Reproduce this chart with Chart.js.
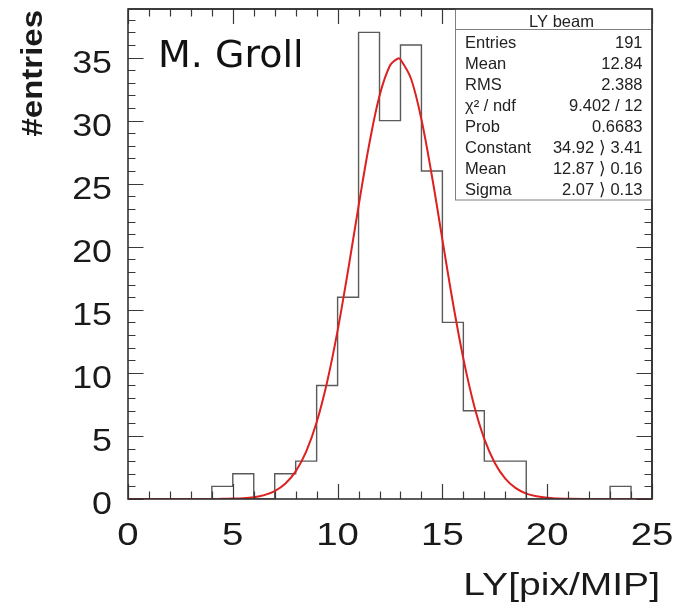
<!DOCTYPE html>
<html><head><meta charset="utf-8">
<script src="https://cdn.jsdelivr.net/npm/chart.js@4/dist/chart.umd.min.js"></script>
<style>html,body{margin:0;padding:0;background:#fff}#wrap{width:684px;height:606px}</style>
</head><body><div id="wrap"><canvas id="c" width="684" height="606"></canvas></div>
<script>
// ---- data ----
const binLowEdges = [0,1,2,3,4,5,6,7,8,9,10,11,12,13,14,15,16,17,18,19,20,21,22,23,24];
const binCounts   = [0,0,0,0,1,2,0,2,3,9,16,37,30,36,26,14,7,3,3,0,0,0,0,1,0];
const binUpperEnd = 25;
const fitX = [0,1,2,3,4,4.5,5,5.5,6,6.5,7,7.5,8,8.5,9,9.5,10,10.5,11,11.5,12,12.5,12.87,13,13.5,14,14.5,15,15.5,16,16.5,17,17.5,18,18.5,19,19.5,20,20.5,21,22,23,24,25];
const fitY = [0,0,0,0,0,0.01,0.03,0.06,0.14,0.31,0.63,1.21,2.19,3.76,6.08,9.28,13.35,18.13,23.22,28.05,31.97,34.37,34.92,34.85,33.34,30.09,25.61,20.57,15.58,11.13,7.50,4.77,2.86,1.62,0.86,0.43,0.21,0.09,0.04,0.01,0,0,0,0];
const xTickLabels = [0,5,10,15,20,25];
const yTickLabels = [0,5,10,15,20,25,30,35];
const xTitle = 'LY[pix/MIP]';
const yTitle = '#entries';
const author = 'M. Groll';
const statsTitle = 'LY beam';
const statsNames  = ['Entries','Mean','RMS','\u03C7\u00B2 / ndf','Prob','Constant','Mean','Sigma'];
const statsValues = ['191','12.84','2.388','9.402 / 12','0.6683','34.92 \u27E9 3.41','12.87 \u27E9 0.16','2.07 \u27E9 0.13'];

// ---- build datasets ----
const histPoints = binLowEdges.map((x,i)=>({x:x,y:binCounts[i]}));
histPoints.push({x:binUpperEnd,y:binCounts[binCounts.length-1]});
const fitPoints = fitX.map((x,i)=>({x:x,y:fitY[i]}));

function txt(ctx,s,x,y,font,align,sx,color){
  ctx.save();ctx.translate(x,y);ctx.scale(sx,1);
  ctx.font=font;ctx.textAlign=align;ctx.textBaseline='alphabetic';
  ctx.fillStyle=color||'#111';ctx.fillText(s,0,0);ctx.restore();
}

const framePlugin = {
  id:'rootFrame',
  afterDatasetsDraw(chart){
    const ctx=chart.ctx, a=chart.chartArea, xs=chart.scales.x, ys=chart.scales.y;
    ctx.save();
    // ticks
    ctx.strokeStyle='#3a3a3a';ctx.lineWidth=1.2;
    ctx.beginPath();
    for(let v=0; v<=25; v++){
      const px=Math.round(xs.getPixelForValue(v))+0.5;
      const len = (v%5===0)?15:7.5;
      ctx.moveTo(px,a.bottom);ctx.lineTo(px,a.bottom-len);
      ctx.moveTo(px,a.top);ctx.lineTo(px,a.top+len);
    }
    for(let v=0; v<=ys.max; v++){
      const py=Math.round(ys.getPixelForValue(v))+0.5;
      const len = (v%5===0)?15.5:7.5;
      ctx.moveTo(a.left,py);ctx.lineTo(a.left+len,py);
      ctx.moveTo(a.right,py);ctx.lineTo(a.right-len,py);
    }
    ctx.stroke();
    // frame
    ctx.lineWidth=1.6;ctx.strokeStyle='#333';
    ctx.strokeRect(a.left,a.top,a.right-a.left,a.bottom-a.top);
    // tick labels
    const tf='32px "Liberation Sans", Arial, sans-serif';
    xTickLabels.forEach(v=>{ txt(ctx,String(v),xs.getPixelForValue(v),a.bottom+46,tf,'center',1.2,'#1a1a1a'); });
    yTickLabels.forEach(v=>{ txt(ctx,String(v),a.left-16,ys.getPixelForValue(v)+15,tf,'right',1.12,'#1a1a1a'); });
    // axis titles
    txt(ctx,xTitle,660,595,'32px "Liberation Sans", Arial, sans-serif','right',1.22,'#1a1a1a');
    ctx.save();ctx.translate(42,10);ctx.rotate(-Math.PI/2);ctx.scale(1.1,1);
    ctx.font='bold 30px "Liberation Sans", Arial, sans-serif';ctx.textAlign='right';ctx.textBaseline='alphabetic';
    ctx.fillStyle='#1a1a1a';ctx.fillText(yTitle,0,0);ctx.restore();
    // author
    txt(ctx,author,158,67,'38px "DejaVu Sans", sans-serif','left',1,'#111');
    // stats box
    const bx=455.5, by=a.top, bw=a.right-455.5, bh=200-a.top;
    ctx.fillStyle='#fff';ctx.fillRect(bx,by,bw,bh);
    ctx.strokeStyle='#808080';ctx.lineWidth=1;
    ctx.strokeRect(bx,by,bw,bh);
    ctx.beginPath();ctx.moveTo(bx,29.5);ctx.lineTo(bx+bw,29.5);ctx.stroke();
    const sf='16.5px "Liberation Sans", Arial, sans-serif';
    txt(ctx,statsTitle,561.5,26.7,sf,'center',1,'#222');
    statsNames.forEach((n,i)=>{
      const base=47.7+21.1*i;
      txt(ctx,n,465,base,sf,'left',1,'#222');
      txt(ctx,statsValues[i],642.5,base,sf,'right',1,'#222');
    });
    // redraw frame edges over box
    ctx.lineWidth=1.6;ctx.strokeStyle='#333';
    ctx.beginPath();ctx.moveTo(a.left,a.top);ctx.lineTo(a.right,a.top);ctx.lineTo(a.right,a.bottom);ctx.stroke();
    ctx.restore();
  }
};

new Chart(document.getElementById('c'),{
  type:'line',
  data:{datasets:[
    {label:'fit',data:fitPoints,borderColor:'#dd2020',borderWidth:2,pointRadius:0,tension:0.35,fill:false,order:0},
    {label:'LY beam',data:histPoints,borderColor:'#5a5a5a',borderWidth:1.4,pointRadius:0,stepped:'before',fill:false,order:1}
  ]},
  options:{
    responsive:false,devicePixelRatio:1,animation:false,
    layout:{padding:{left:128,right:32,top:9,bottom:107}},
    plugins:{legend:{display:false},tooltip:{enabled:false}},
    scales:{
      x:{type:'linear',min:0,max:25,display:false},
      y:{type:'linear',min:0,max:38.85,display:false}
    }
  },
  plugins:[framePlugin]
});
</script></body></html>
